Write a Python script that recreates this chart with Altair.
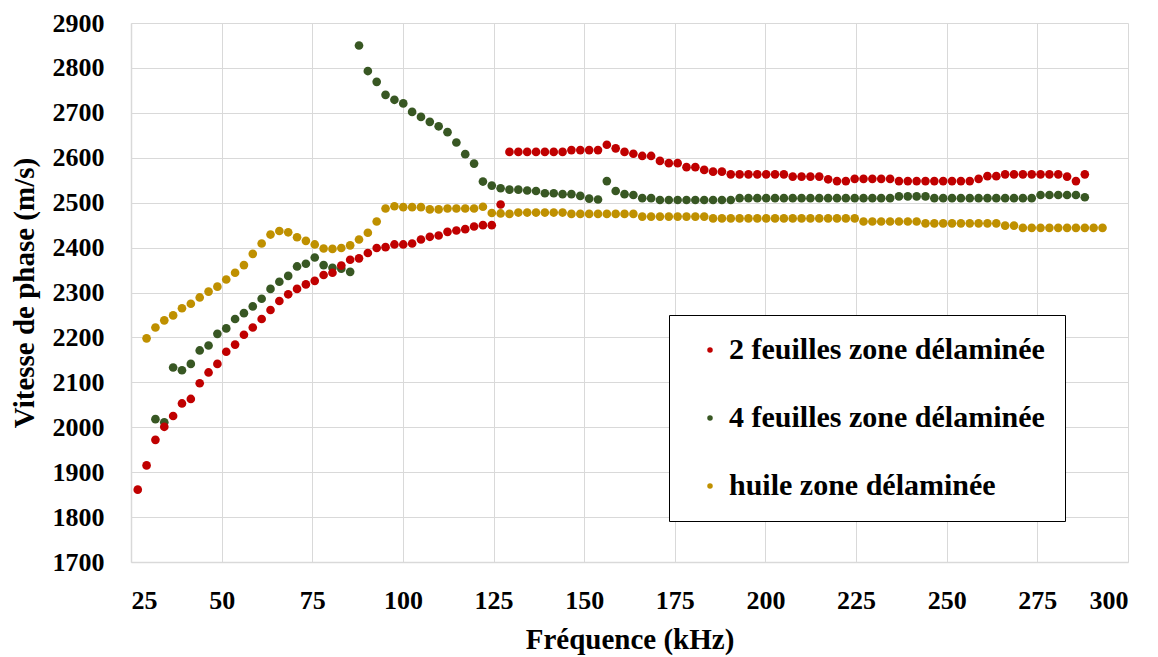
import altair as alt
import pandas as pd

# Frequency bins (kHz)
FREQ = [26.86, 29.30, 31.74, 34.18, 36.62, 39.06, 41.50, 43.95, 46.39, 48.83,
        51.27, 53.71, 56.15, 58.59, 61.04, 63.48, 65.92, 68.36, 70.80, 73.24,
        75.68, 78.13, 80.57, 83.01, 85.45, 87.89, 90.33, 92.77, 95.21, 97.66,
        100.10, 102.54, 104.98, 107.42, 109.86, 112.30, 114.75, 117.19, 119.63, 122.07,
        124.51, 126.95, 129.39, 131.84, 134.28, 136.72, 139.16, 141.60, 144.04, 146.48,
        148.93, 151.37, 153.81, 156.25, 158.69, 161.13, 163.57, 166.02, 168.46, 170.90,
        173.34, 175.78, 178.22, 180.66, 183.11, 185.55, 187.99, 190.43, 192.87, 195.31,
        197.75, 200.20, 202.64, 205.08, 207.52, 209.96, 212.40, 214.84, 217.29, 219.73,
        222.17, 224.61, 227.05, 229.49, 231.93, 234.38, 236.82, 239.26, 241.70, 244.14,
        246.58, 249.02, 251.46, 253.91, 256.35, 258.79, 261.23, 263.67, 266.11, 268.55,
        271.00, 273.44, 275.88, 278.32, 280.76, 283.20, 285.64, 288.09, 290.53, 292.97]

RED = [1861, 1915, 1972, 2001, 2025, 2053, 2063, 2098, 2122, 2141,
       2168, 2184, 2206, 2222, 2241, 2261, 2281, 2296, 2308, 2318,
       2326, 2339, 2344, 2360, 2373, 2376, 2388, 2399, 2401, 2407,
       2407, 2409, 2418, 2424, 2427, 2435, 2438, 2441, 2447, 2450,
       2450, 2496, 2613, 2613, 2613, 2613, 2613, 2613, 2613, 2617,
       2617, 2617, 2617, 2629, 2621, 2613, 2609, 2604, 2604, 2593,
       2588, 2588, 2579, 2579, 2573, 2569, 2569, 2563, 2563, 2563,
       2563, 2563, 2563, 2563, 2558, 2558, 2558, 2558, 2552, 2548,
       2548, 2553, 2553, 2553, 2553, 2553, 2548, 2548, 2548, 2548,
       2548, 2548, 2548, 2548, 2548, 2553, 2559, 2559, 2563, 2563,
       2563, 2563, 2563, 2563, 2563, 2558, 2548, 2563, None, None]

GREEN = [None, None, 2018, 2011, 2133, 2127, 2141, 2171, 2182, 2208,
         2220, 2241, 2254, 2269, 2286, 2308, 2324, 2337, 2358, 2364,
         2378, 2361, 2355, 2353, 2346, 2850, 2793, 2769, 2740, 2729,
         2721, 2702, 2691, 2680, 2670, 2657, 2634, 2608, 2587, 2547,
         2538, 2532, 2529, 2529, 2527, 2526, 2521, 2521, 2519, 2519,
         2515, 2509, 2507, 2548, 2526, 2519, 2517, 2510, 2510, 2506,
         2506, 2506, 2506, 2506, 2506, 2506, 2506, 2506, 2510, 2510,
         2510, 2510, 2510, 2510, 2510, 2510, 2510, 2510, 2510, 2510,
         2510, 2510, 2510, 2510, 2510, 2510, 2514, 2514, 2514, 2514,
         2510, 2510, 2510, 2510, 2510, 2510, 2510, 2510, 2510, 2510,
         2510, 2510, 2517, 2517, 2517, 2517, 2517, 2512, None, None]

GOLD = [None, 2198, 2222, 2238, 2249, 2265, 2275, 2289, 2302, 2313,
        2329, 2344, 2361, 2386, 2409, 2429, 2437, 2434, 2423, 2415,
        2407, 2398, 2397, 2399, 2405, 2418, 2433, 2458, 2487, 2492,
        2490, 2490, 2490, 2485, 2485, 2487, 2487, 2487, 2487, 2491,
        2477, 2476, 2475, 2478, 2478, 2478, 2478, 2478, 2478, 2475,
        2475, 2475, 2475, 2475, 2475, 2475, 2475, 2469, 2469, 2469,
        2469, 2469, 2469, 2469, 2469, 2465, 2465, 2465, 2465, 2465,
        2465, 2465, 2465, 2465, 2465, 2465, 2465, 2465, 2465, 2465,
        2465, 2465, 2458, 2458, 2458, 2458, 2458, 2458, 2458, 2454,
        2454, 2454, 2454, 2454, 2454, 2454, 2454, 2454, 2449, 2449,
        2444, 2444, 2444, 2444, 2444, 2444, 2444, 2444, 2444, 2444]

SERIES = ["2 feuilles zone délaminée", "4 feuilles zone délaminée", "huile zone délaminée"]
COLORS = ["#C00000", "#385723", "#BF9000"]
X_TICKS = [25, 50, 75, 100, 125, 150, 175, 200, 225, 250, 275, 300]
Y_TICKS = [1700, 1800, 1900, 2000, 2100, 2200, 2300, 2400, 2500, 2600, 2700, 2800, 2900]

rows = []
for name, vals in [(SERIES[1], GREEN), (SERIES[2], GOLD), (SERIES[0], RED)]:
    for f, v in zip(FREQ, vals):
        if v is not None:
            rows.append({"f": f, "v": v, "s": name})
df = pd.DataFrame(rows)

FONT = "Times New Roman, Liberation Serif, DejaVu Serif, serif"

chart = alt.Chart(df).mark_circle(size=75, opacity=1).encode(
    x=alt.X("f:Q",
            scale=alt.Scale(domain=[25, 300], nice=False, zero=False),
            axis=alt.Axis(values=X_TICKS, format="d", title="Fréquence (kHz)",
                          labelPadding=25, titleY=86, titleBaseline="alphabetic")),
    y=alt.Y("v:Q",
            scale=alt.Scale(domain=[1700, 2900], nice=False, zero=False),
            axis=alt.Axis(values=Y_TICKS, format="d", title="Vitesse de phase (m/s)",
                          labelPadding=27, titleX=-107, titleBaseline="middle")),
    color=alt.Color("s:N",
                    scale=alt.Scale(domain=SERIES, range=COLORS),
                    legend=alt.Legend(title=None, orient="none", legendX=538, legendY=292,
                                      padding=20, strokeColor="black", fillColor="white",
                                      symbolType="circle", symbolSize=30, symbolOffset=6,
                                      labelOffset=4, rowPadding=38, labelLimit=600,
                                      labelFont=FONT, labelFontWeight="bold",
                                      labelFontSize=30, labelColor="black")),
).properties(
    width=997, height=539,
    padding={"left": 123, "top": 15, "right": 22, "bottom": 94},
    autosize=alt.AutoSizeParams(type="none"),
).configure_axis(
    labelFont=FONT, labelFontWeight="bold", labelFontSize=26, labelColor="black",
    titleFont=FONT, titleFontWeight="bold", titleFontSize=29, titleColor="black",
    gridColor="#D9D9D9", gridWidth=1, domainColor="#D9D9D9", domainWidth=1.5,
    ticks=False, tickSize=0,
).configure_view(stroke="transparent")

chart.save("out.html", embed_options={"renderer": "svg", "actions": False})
